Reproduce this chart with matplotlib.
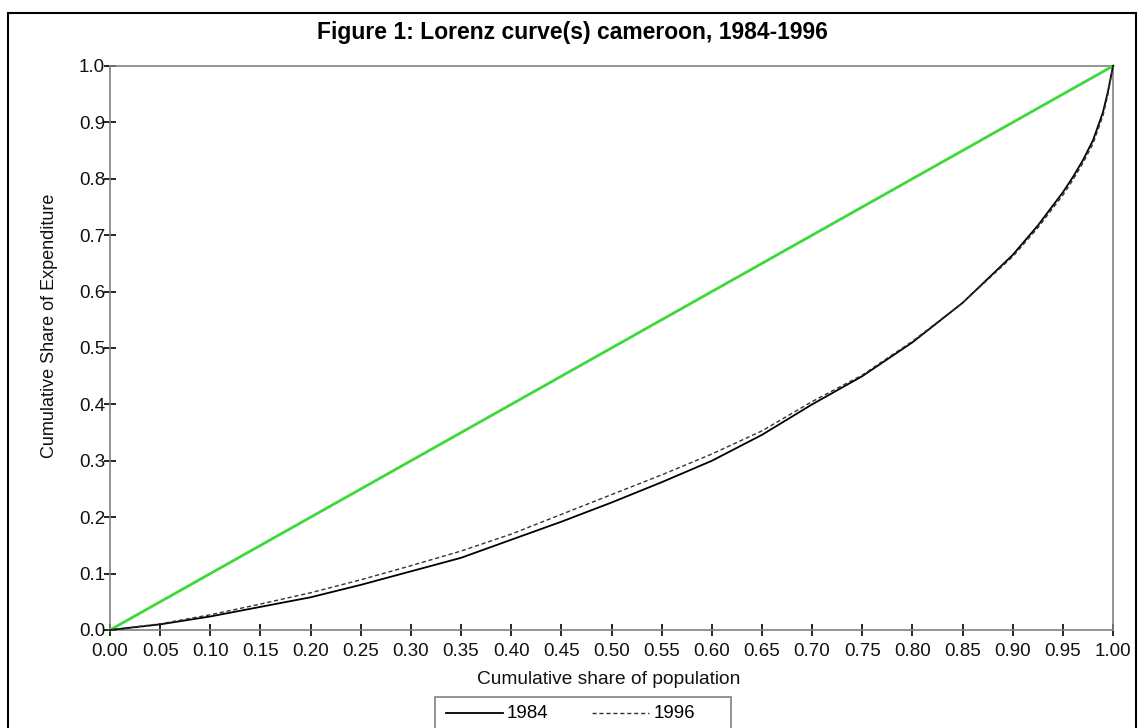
import matplotlib
matplotlib.use("Agg")
import matplotlib.pyplot as plt
from matplotlib.patches import Rectangle
from matplotlib.lines import Line2D

plt.rcParams['font.family'] = ['Liberation Sans', 'DejaVu Sans']

# Data
pop_share = [0.0, 0.05, 0.10, 0.15, 0.20, 0.25, 0.30, 0.35, 0.40, 0.45, 0.50,
             0.55, 0.60, 0.65, 0.70, 0.75, 0.80, 0.85, 0.90, 0.925, 0.95,
             0.96, 0.97, 0.98, 0.99, 0.995, 1.0]
lorenz_1984 = [0.0, 0.010, 0.024, 0.041, 0.058, 0.080, 0.104, 0.128, 0.160,
               0.192, 0.226, 0.262, 0.300, 0.346, 0.400, 0.450, 0.510, 0.580,
               0.665, 0.717, 0.776, 0.803, 0.833, 0.868, 0.918, 0.955, 1.0]
lorenz_1996 = [0.0, 0.011, 0.027, 0.046, 0.066, 0.089, 0.114, 0.140, 0.170,
               0.205, 0.240, 0.275, 0.312, 0.353, 0.405, 0.452, 0.512, 0.580,
               0.662, 0.713, 0.771, 0.798, 0.828, 0.862, 0.912, 0.950, 1.0]
equality = [0.0, 1.0]
x_ticks = [round(0.05 * i, 2) for i in range(21)]
y_ticks = [round(0.1 * i, 1) for i in range(11)]

title = "Figure 1: Lorenz curve(s) cameroon, 1984-1996"
xlabel = "Cumulative share of population"
ylabel = "Cumulative Share of Expenditure"
series_labels = ["1984", "1996"]

W, H = 1144, 728
fig = plt.figure(figsize=(W / 100, H / 100), dpi=100)
fig.patch.set_facecolor("white")

# outer frame
fig.patches.append(Rectangle((8 / W, -0.05), (1136 - 8) / W, 1 - 13 / H + 0.05,
                             transform=fig.transFigure, fill=False,
                             edgecolor="black", linewidth=1.5))

ax = fig.add_axes([110 / W, 1 - 630 / H, (1113 - 110) / W, (630 - 66) / H])
ax.plot(equality, equality, color="#3cd83c", linewidth=2, clip_on=False, zorder=3)
ax.plot(pop_share, lorenz_1984, color="black", linewidth=1.3, linestyle="-",
        clip_on=False, zorder=4)
ax.plot(pop_share, lorenz_1996, color="#333333", linewidth=1.0,
        linestyle=(0, (3, 2)), clip_on=False, zorder=4)

ax.set_xlim(0, 1)
ax.set_ylim(0, 1)
ax.set_xticks(x_ticks)
ax.set_xticklabels([f"{v:.2f}" for v in x_ticks])
ax.set_yticks(y_ticks)
ax.set_yticklabels([f"{v:.1f}" for v in y_ticks])
for s in ax.spines.values():
    s.set_color("#808080")
    s.set_linewidth(1.2)
ax.tick_params(axis="both", direction="inout", length=9, width=1.2,
               color="black", labelsize=13.5, labelcolor="#111111")
ax.tick_params(axis="x", pad=5)
ax.tick_params(axis="y", pad=-1)

fig.text(0.5, 1 - 33 / H, title, ha="center", va="center",
         fontsize=16.5, fontweight="bold")
fig.text(609 / W, 1 - 679 / H, xlabel, ha="center", va="center", fontsize=13.8,
         color="#111111")
fig.text(50 / W, 1 - 326 / H, ylabel, ha="center", va="center", fontsize=13,
         rotation=90, color="#111111")

# legend box
fig.patches.append(Rectangle((435 / W, -0.05), (731 - 435) / W, 1 - 697 / H + 0.05,
                             transform=fig.transFigure, fill=False,
                             edgecolor="#808080", linewidth=1.2))
ly = 1 - 713 / H
fig.lines.append(Line2D([446 / W, 503 / W], [ly, ly], transform=fig.transFigure,
                        color="black", linewidth=1.3))
fig.text(507 / W, ly, series_labels[0], ha="left", va="center", fontsize=13.5)
fig.lines.append(Line2D([592 / W, 649 / W], [ly, ly], transform=fig.transFigure,
                        color="#333333", linewidth=1.0, linestyle=(0, (3, 2))))
fig.text(654 / W, ly, series_labels[1], ha="left", va="center", fontsize=13.5)

fig.savefig("out.png", dpi=100)
